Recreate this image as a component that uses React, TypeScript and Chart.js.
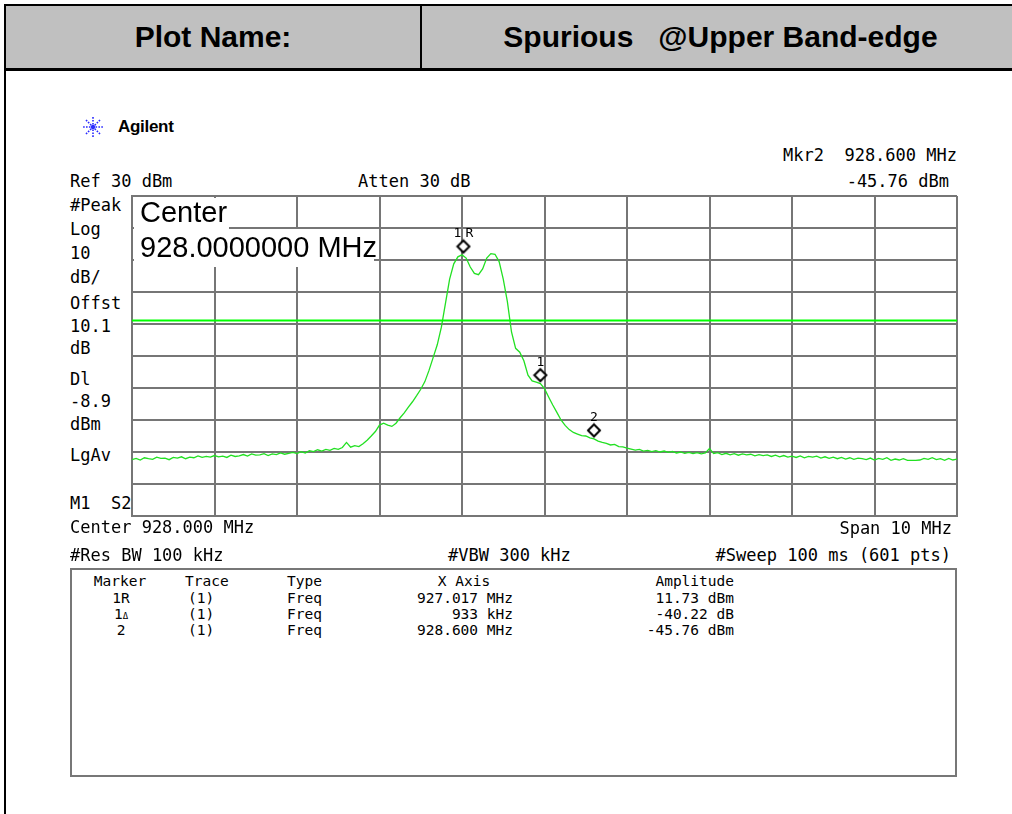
import React, { useEffect, useRef } from 'react';
import { Chart, registerables } from 'chart.js';

Chart.register(...registerables);

// ---- Data ----
const X_MIN_MHZ = 923;
const X_MAX_MHZ = 933;
const X_DIV_MHZ = 1;
const Y_MIN_DBM = -70;
const Y_MAX_DBM = 30;
const Y_DIV_DB = 10;

const SWEEP_START_MHZ = 923;
const SWEEP_STEP_MHZ = 0.05;
const TRACE_DBM = [
  -52.4, -52.0, -52.5, -51.8, -52.1, -52.3, -51.6, -52.0, -51.9, -52.4, -51.7, -51.9, -51.5, -52.1, -51.6, -51.8, -51.2, -51.7, -51.4, -51.6, -51.1,
  -51.5, -51.3, -51.7, -51.0, -51.4, -51.2, -50.8, -51.3, -50.6, -51.0, -50.9, -50.5, -51.1, -50.6, -50.8, -50.3, -50.7, -50.4, -50.1, -50.5,
  -49.9, -50.3, -49.6, -49.9, -49.3, -49.7, -49.2, -49.5, -48.9, -49.2, -48.6, -47.0, -48.5, -48.0, -48.3,
  -47.4, -46.3, -45.0, -43.6, -41.6, -41.0, -41.6, -42.0, -41.0, -39.3, -37.8, -36.0, -34.3, -32.4, -30.4, -28.0, -24.5, -20.5, -16.5, -11.0,
  -3.5, 4.0, 8.8, 11.0, 11.6, 10.6, 7.8, 5.8, 5.4, 7.2, 10.6, 12.0, 11.8, 9.5, 4.0, -3.0, -12.5, -17.6, -18.8, -21.5,
  -26.0, -27.8, -28.2, -28.6, -30.2, -32.8, -35.3, -37.6, -40.0, -41.7, -43.0, -43.9, -44.4, -44.9, -45.0, -45.6, -45.9, -46.6, -47.0, -47.3,
  -47.8, -47.6, -48.3, -48.4, -48.8,
  -49.1, -49.4, -49.2, -49.7, -49.5, -49.9, -49.6, -50.0, -49.7, -50.1, -49.8, -50.3, -50.0, -50.4, -50.1, -50.5, -50.2, -50.6, -50.3, -48.9,
  -50.5, -50.2, -50.8, -50.4, -50.9, -50.5, -51.0, -50.6, -50.9, -50.7, -51.2, -50.8, -51.1, -50.9, -51.4, -51.0, -51.5, -51.1, -51.6, -51.3,
  -51.7, -51.2, -51.8, -51.4, -51.6, -51.3, -51.9, -51.5, -52.0, -51.6, -52.1, -51.7, -52.2, -51.8, -52.3, -51.9, -52.1, -52.4, -51.9, -52.5,
  -52.0, -52.3, -51.8, -52.6, -52.2, -52.5, -52.1, -52.6, -52.6, -52.6, -52.5, -52.0, -52.3, -51.8, -52.4, -52.1, -52.6, -52.0, -52.5, -52.2,
];

const DISPLAY_LINE_DBM = -8.9;

const MARKER_LABELS = ['1R', '1', '2'];
const MARKER_FREQ_MHZ = [927.017, 927.95, 928.6];
const MARKER_AMP_DBM = [11.73, -28.49, -45.76];

const LEFT_LABELS = ['#Peak', 'Log', '10', 'dB/', 'Offst', '10.1', 'dB', 'Dl', '-8.9', 'dBm', 'LgAv', 'M1  S2'];
const LEFT_LABEL_Y = [205, 229, 253, 277, 303, 326, 348, 379, 401, 424, 455, 503];

const TABLE_MARKER = ['1R', '1Δ', '2'];
const TABLE_TRACE = ['(1)', '(1)', '(1)'];
const TABLE_TYPE = ['Freq', 'Freq', 'Freq'];
const TABLE_XAXIS = ['927.017 MHz', '933 kHz', '928.600 MHz'];
const TABLE_AMP = ['11.73 dBm', '-40.22 dB', '-45.76 dBm'];
const TABLE_ROW_Y = [598, 614, 630];

// ---- styles ----
const MONO = '"DejaVu Sans Mono", "Liberation Mono", monospace';
const SANS = '"Liberation Sans", Arial, sans-serif';
const GRID = '#767676';

const PLOT_LEFT = 132;
const PLOT_TOP = 196;
const PLOT_W = 825;
const PLOT_H = 320;
const PAD = 4;

function txt(
  s: string,
  left: number,
  centerY: number,
  opts: { size?: number; align?: 'left' | 'right' | 'center'; width?: number; key?: string } = {}
) {
  const size = opts.size ?? 17;
  const lh = 20;
  const style: React.CSSProperties = {
    position: 'absolute',
    top: centerY - lh / 2,
    height: lh,
    lineHeight: lh + 'px',
    fontFamily: MONO,
    fontSize: size,
    color: '#000',
    whiteSpace: 'pre',
  };
  if (opts.align === 'right') {
    style.right = 1012 - left;
    style.textAlign = 'right';
  } else if (opts.align === 'center') {
    const w = opts.width ?? 100;
    style.left = left - w / 2;
    style.width = w;
    style.textAlign = 'center';
  } else {
    style.left = left;
  }
  return (
    <div key={opts.key ?? s + left + centerY} style={style}>
      {s}
    </div>
  );
}

function makeDiamond(): HTMLCanvasElement {
  const c = document.createElement('canvas');
  c.width = 16;
  c.height = 32;
  const g = c.getContext('2d')!;
  g.beginPath();
  g.moveTo(8, 2);
  g.lineTo(14, 8);
  g.lineTo(8, 14);
  g.lineTo(2, 8);
  g.closePath();
  g.fillStyle = '#ffffff';
  g.fill();
  g.lineWidth = 2;
  g.strokeStyle = '#000000';
  g.stroke();
  return c;
}

const markerLabelPlugin = {
  id: 'markerLabels',
  afterDatasetsDraw(chart: any) {
    const { ctx, scales } = chart;
    ctx.save();
    ctx.font = '13px "DejaVu Sans Mono"';
    ctx.fillStyle = '#000';
    ctx.textAlign = 'center';
    ctx.textBaseline = 'alphabetic';
    MARKER_LABELS.forEach((l, i) => {
      const px = scales.x.getPixelForValue(MARKER_FREQ_MHZ[i]);
      const py = scales.y.getPixelForValue(MARKER_AMP_DBM[i]);
      if (l.length > 1) {
        ctx.fillText(l.charAt(0), px - 6, py - 17);
        ctx.fillText(l.charAt(1), px + 6, py - 17);
      } else {
        ctx.fillText(l, px, py - 17);
      }
    });
    ctx.restore();
  },
};

function SpectrumChart() {
  const ref = useRef<HTMLCanvasElement | null>(null);
  useEffect(() => {
    if (!ref.current) return;
    const diamond = makeDiamond();
    const trace = TRACE_DBM.map((v, i) => ({ x: SWEEP_START_MHZ + i * SWEEP_STEP_MHZ, y: v }));
    const markers = MARKER_FREQ_MHZ.map((f, i) => ({ x: f, y: MARKER_AMP_DBM[i] }));
    const chart = new Chart(ref.current, {
      type: 'line',
      data: {
        datasets: [
          {
            label: 'Markers',
            data: markers,
            showLine: false,
            pointStyle: diamond as any,
            pointRadius: 8,
            borderColor: '#000',
            backgroundColor: '#fff',
          },
          {
            label: 'Display line',
            data: [
              { x: X_MIN_MHZ, y: DISPLAY_LINE_DBM },
              { x: X_MAX_MHZ, y: DISPLAY_LINE_DBM },
            ],
            borderColor: '#00ff00',
            borderWidth: 2,
            pointRadius: 0,
          },
          {
            label: 'Trace 1',
            data: trace,
            borderColor: '#22e022',
            borderWidth: 1.3,
            pointRadius: 0,
            tension: 0,
          },
        ],
      },
      options: {
        animation: false,
        responsive: false,
        events: [],
        layout: { padding: PAD, autoPadding: false },
        plugins: { legend: { display: false }, tooltip: { enabled: false } },
        scales: {
          x: {
            type: 'linear',
            min: X_MIN_MHZ,
            max: X_MAX_MHZ,
            ticks: { display: false, stepSize: X_DIV_MHZ },
            grid: { color: GRID, lineWidth: 2, drawTicks: false },
            border: { display: true, color: GRID, width: 2 },
          },
          y: {
            type: 'linear',
            min: Y_MIN_DBM,
            max: Y_MAX_DBM,
            ticks: { display: false, stepSize: Y_DIV_DB },
            grid: { color: GRID, lineWidth: 2, drawTicks: false },
            border: { display: true, color: GRID, width: 2 },
          },
        },
      },
      plugins: [markerLabelPlugin],
    });
    return () => chart.destroy();
  }, []);
  return (
    <canvas
      ref={ref}
      width={PLOT_W + 2 * PAD}
      height={PLOT_H + 2 * PAD}
      style={{
        position: 'absolute',
        left: PLOT_LEFT - PAD,
        top: PLOT_TOP - PAD,
        width: PLOT_W + 2 * PAD,
        height: PLOT_H + 2 * PAD,
      }}
    />
  );
}

function AgilentLogo() {
  const rays = [0, 45, 90, 135, 180, 225, 270, 315];
  return (
    <svg width={26} height={26} style={{ position: 'absolute', left: 80, top: 114 }}>
      {rays.map((a) => {
        const r = (a * Math.PI) / 180;
        return (
          <line
            key={a}
            x1={13 + Math.cos(r) * 2.5}
            y1={13 + Math.sin(r) * 2.5}
            x2={13 + Math.cos(r) * 11}
            y2={13 + Math.sin(r) * 11}
            stroke="#2a2aff"
            strokeWidth={1.6}
            strokeDasharray="1.6 1.3"
          />
        );
      })}
      <circle cx={13} cy={13} r={2.2} fill="#2a2aff" />
    </svg>
  );
}

export default function App() {
  return (
    <div
      style={{
        position: 'fixed',
        left: 0,
        top: 0,
        width: 1012,
        height: 814,
        overflow: 'hidden',
        background: '#fff',
      }}
    >
      {/* header */}
      <div
        style={{
          position: 'absolute',
          left: 4,
          top: 4,
          width: 1100,
          height: 67,
          boxSizing: 'border-box',
          background: '#c0c0c0',
          borderTop: '2px solid #000',
          borderLeft: '2px solid #000',
          borderBottom: '3px solid #000',
        }}
      />
      <div style={{ position: 'absolute', left: 420, top: 4, width: 2, height: 66, background: '#000' }} />
      <div
        style={{
          position: 'absolute',
          left: 6,
          width: 414,
          top: 20,
          height: 34,
          lineHeight: '34px',
          textAlign: 'center',
          fontFamily: SANS,
          fontWeight: 'bold',
          fontSize: 30,
          color: '#000',
        }}
      >
        Plot Name:
      </div>
      <div
        style={{
          position: 'absolute',
          left: 422,
          width: 597,
          top: 20,
          height: 34,
          lineHeight: '34px',
          textAlign: 'center',
          fontFamily: SANS,
          fontWeight: 'bold',
          fontSize: 30,
          color: '#000',
          whiteSpace: 'pre',
        }}
      >
        {'Spurious   @Upper Band-edge'}
      </div>
      {/* left page border */}
      <div style={{ position: 'absolute', left: 4, top: 70, width: 2, height: 760, background: '#000' }} />

      {/* Agilent */}
      <AgilentLogo />
      <div
        style={{
          position: 'absolute',
          left: 118,
          top: 116,
          height: 22,
          lineHeight: '22px',
          fontFamily: SANS,
          fontWeight: 'bold',
          fontSize: 17,
          color: '#000',
          letterSpacing: -0.3,
        }}
      >
        Agilent
      </div>

      {/* top annotations */}
      {txt('Mkr2  928.600 MHz', 957, 155, { align: 'right' })}
      {txt('Ref 30 dBm', 70, 181)}
      {txt('Atten 30 dB', 358, 181)}
      {txt('-45.76 dBm', 949, 181, { align: 'right' })}

      {/* left column */}
      {LEFT_LABELS.map((l, i) => txt(l, 70, LEFT_LABEL_Y[i], { key: 'l' + i }))}

      <SpectrumChart />

      {/* center frequency overlay */}
      <div style={{ position: 'absolute', left: 134, top: 198, width: 95, height: 31, background: '#fff' }} />
      <div style={{ position: 'absolute', left: 134, top: 229, width: 240, height: 38, background: '#fff' }} />
      <div
        style={{
          position: 'absolute',
          left: 140,
          top: 198,
          height: 29,
          lineHeight: '29px',
          fontFamily: SANS,
          fontSize: 29,
          color: '#000',
          whiteSpace: 'pre',
        }}
      >
        Center
      </div>
      <div
        style={{
          position: 'absolute',
          left: 140,
          top: 233,
          height: 29,
          lineHeight: '29px',
          fontFamily: SANS,
          fontSize: 29,
          color: '#000',
          whiteSpace: 'pre',
        }}
      >
        928.0000000 MHz
      </div>

      {/* bottom annotations */}
      {txt('Center 928.000 MHz', 70, 527)}
      {txt('Span 10 MHz', 952, 528, { align: 'right' })}
      {txt('#Res BW 100 kHz', 70, 555)}
      {txt('#VBW 300 kHz', 448, 555)}
      {txt('#Sweep 100 ms (601 pts)', 951, 555, { align: 'right' })}

      {/* marker table */}
      <div
        style={{
          position: 'absolute',
          left: 70,
          top: 568,
          width: 887,
          height: 209,
          boxSizing: 'border-box',
          border: '2px solid #777',
        }}
      />
      {txt('Marker', 120, 581, { size: 14.5, align: 'center', width: 80 })}
      {txt('Trace', 185, 581, { size: 14.5 })}
      {txt('Type', 287, 581, { size: 14.5 })}
      {txt('X Axis', 464, 581, { size: 14.5, align: 'center', width: 80 })}
      {txt('Amplitude', 734, 581, { size: 14.5, align: 'right' })}
      {TABLE_MARKER.map((m, i) => (
        <div
          key={'m' + i}
          style={{
            position: 'absolute',
            left: 81,
            width: 80,
            top: TABLE_ROW_Y[i] - 10,
            height: 20,
            lineHeight: '20px',
            textAlign: 'center',
            fontFamily: MONO,
            fontSize: 14.5,
            color: '#000',
          }}
        >
          {m.charAt(0)}
          {m.charAt(1) === 'Δ' ? <span style={{ fontSize: 9 }}>Δ</span> : m.slice(1)}
        </div>
      ))}
      {TABLE_TRACE.map((t, i) => txt(t, 188, TABLE_ROW_Y[i], { size: 14.5, key: 't' + i }))}
      {TABLE_TYPE.map((t, i) => txt(t, 287, TABLE_ROW_Y[i], { size: 14.5, key: 'ty' + i }))}
      {TABLE_XAXIS.map((t, i) => txt(t, 513, TABLE_ROW_Y[i], { size: 14.5, align: 'right', key: 'x' + i }))}
      {TABLE_AMP.map((t, i) => txt(t, 734, TABLE_ROW_Y[i], { size: 14.5, align: 'right', key: 'a' + i }))}
    </div>
  );
}
